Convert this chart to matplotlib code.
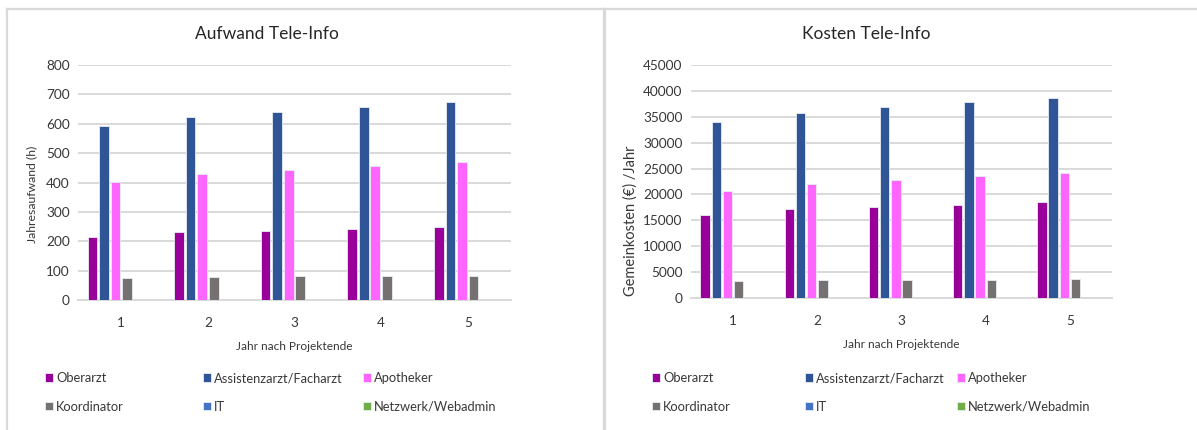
import matplotlib
matplotlib.use("Agg")
import matplotlib.pyplot as plt
import numpy as np

plt.rcParams["font.family"] = ["Lato", "DejaVu Sans"]

years = ["1", "2", "3", "4", "5"]
series_names = ["Oberarzt", "Assistenzarzt/Facharzt", "Apotheker",
                "Koordinator", "IT", "Netzwerk/Webadmin"]
series_colors = ["#990099", "#2F5597", "#FF66FF", "#767171", "#4472C4", "#70AD47"]

# Annual effort in hours
hours_oberarzt = [216, 230, 236, 243, 247]
hours_assistenz = [592, 624, 641, 656, 673]
hours_apotheker = [403, 430, 441, 455, 469]
hours_koordinator = [76, 78, 81, 81, 83]
hours_it = [0, 0, 0, 0, 0]
hours_netzwerk = [0, 0, 0, 0, 0]

# Overhead costs in EUR per year
cost_oberarzt = [16100, 17100, 17500, 17900, 18500]
cost_assistenz = [34000, 35800, 36800, 37800, 38600]
cost_apotheker = [20700, 22100, 22800, 23500, 24100]
cost_koordinator = [3250, 3400, 3550, 3550, 3700]
cost_it = [0, 0, 0, 0, 0]
cost_netzwerk = [0, 0, 0, 0, 0]

hours = [hours_oberarzt, hours_assistenz, hours_apotheker,
         hours_koordinator, hours_it, hours_netzwerk]
costs = [cost_oberarzt, cost_assistenz, cost_apotheker,
         cost_koordinator, cost_it, cost_netzwerk]

W, H = 1197, 430
fig = plt.figure(figsize=(W / 100, H / 100), dpi=100)
fig.patch.set_facecolor("white")

TEXT = "#383838"
GRID = "#D9D9D9"


def px_rect(x0, y0, x1, y1):
    return [x0 / W, 1 - y1 / H, (x1 - x0) / W, (y1 - y0) / H]


def draw_panel(rect, data, title, ylabel, ymax, ystep, legend_x,
               ylabel_xy, ylabel_size, title_x):
    ax = fig.add_axes(px_rect(*rect))
    x = np.arange(len(years))
    n = len(data)
    slot = 0.8 / n
    handles = []
    for i, (vals, name, col) in enumerate(zip(data, series_names, series_colors)):
        off = -0.4 + slot * (i + 0.5)
        b = ax.bar(x + off, vals, width=slot * 0.84, color=col,
                   edgecolor="#E8ECF5", linewidth=0.6, label=name, zorder=3)
        handles.append(b)
    ax.set_xlim(-0.5, len(years) - 0.5)
    ax.set_ylim(0, ymax)
    ax.set_yticks(np.arange(0, ymax + 1, ystep))
    ax.set_xticks(x)
    ax.set_xticklabels(years)
    ax.grid(axis="y", color=GRID, linewidth=1.4, zorder=0)
    for s in ["top", "right", "left"]:
        ax.spines[s].set_visible(False)
    ax.spines["bottom"].set_color(GRID)
    ax.spines["bottom"].set_linewidth(1.4)
    ax.tick_params(length=0, labelsize=9.8, colors=TEXT)
    ax.tick_params(axis="x", pad=12)
    ax.tick_params(axis="y", pad=6)
    ax.set_xlabel("Jahr nach Projektende", fontsize=8.6, color=TEXT, labelpad=9)
    fig.text(ylabel_xy[0] / W, 1 - ylabel_xy[1] / H, ylabel,
             rotation=90, ha="center", va="center", fontsize=ylabel_size, color=TEXT)
    fig.text(title_x / W, 1 - 34 / H, title,
             ha="center", va="center", fontsize=12.5, color="#262626")

    # legend: three columns, two rows each
    for c in range(3):
        fig.legend([handles[c], handles[c + 3]],
                   [series_names[c], series_names[c + 3]],
                   loc="center left",
                   bbox_to_anchor=(legend_x[c] / W, 1 - 392.5 / H),
                   bbox_transform=fig.transFigure,
                   frameon=False, fontsize=9.3, borderpad=0,
                   borderaxespad=0, handlelength=0.6, handleheight=0.6,
                   handletextpad=0.25, labelspacing=1.3,
                   labelcolor=TEXT)
    return ax


draw_panel((78, 65, 511, 300), hours, "Aufwand Tele-Info", "Jahresaufwand (h)",
           800, 100, (45, 203, 363), (32, 194), 8.8, 267)
draw_panel((691, 65, 1112, 298), costs, "Kosten Tele-Info", "Gemeinkosten (€) /Jahr",
           45000, 5000, (652, 805, 957), (631, 221), 10.5, 866)

# panel frames
frame = dict(color="#D9D9D9", linewidth=1.6)
fig.add_artist(plt.Line2D([7 / W, 1], [1 - 8.5 / H] * 2, transform=fig.transFigure, **frame))
fig.add_artist(plt.Line2D([7 / W] * 2, [0, 1 - 8.5 / H], transform=fig.transFigure, **frame))
fig.add_artist(plt.Line2D([603.5 / W] * 2, [0, 1 - 8.5 / H], transform=fig.transFigure,
                          color="#D9D9D9", linewidth=2.4))

fig.savefig("out.png", dpi=100, facecolor="white")
